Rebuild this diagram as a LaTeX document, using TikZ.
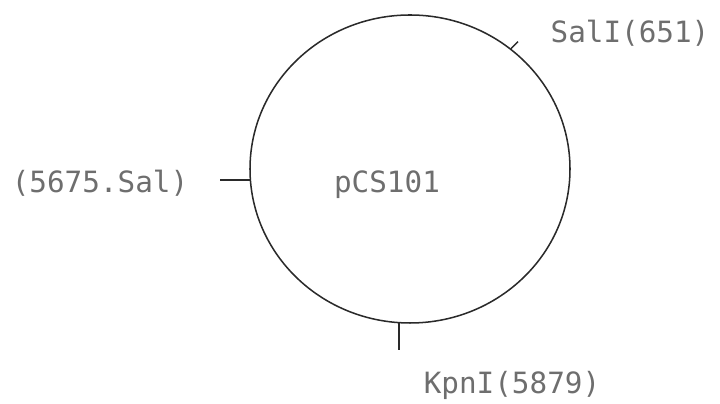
\documentclass[tikz,border=0pt]{standalone}
\usepackage{fontspec}
\setmonofont{DejaVu Sans Mono}
\usepackage{tikz}
\usetikzlibrary{shapes.geometric, positioning, calc}
\definecolor{mapLine}{HTML}{2A2A2A}
\definecolor{mapText}{HTML}{6E6E6E}
\newcommand{\sitelbl}[4]{%
  \node[sitetext] (#1) at (#3, #4) {#2};%
}
\tikzset{
  sitetext/.style={font=\fontsize{25}{25}\selectfont\ttfamily, text=mapText, inner sep=0pt},
  mapline/.style={draw=mapLine, line width=1.3pt}
}

\begin{document}
\begin{tikzpicture}[x=0.03cm, y=0.03cm]
\useasboundingbox (0,0) rectangle (720,404);

% --- PLASMID RING ---
\node[ellipse, mapline, minimum width=320*0.03cm, minimum height=308*0.03cm,
  inner sep=0pt] (ring) at (410, 235) {};
\sitelbl{name}{pCS101}{387}{219}

% --- SITE TICKS ---
\coordinate (salOut)  at ($(ring.50)+(7,7)$);
\coordinate (salLeft) at ($(ring.184)+(-30,0)$);
\coordinate (kpnOut)  at ($(ring.266)+(0,-27)$);
\draw[mapline] (ring.50)  -- (salOut);
\draw[mapline] (ring.184) -- (salLeft);
\draw[mapline] (ring.266) -- (kpnOut);

% --- SITE LABELS ---
\sitelbl{salA}{SalI(651)}{630}{371}
\sitelbl{salB}{(5675.Sal)}{100}{221}
\sitelbl{kpn}{KpnI(5879)}{512}{19}

\end{tikzpicture}
\end{document}
